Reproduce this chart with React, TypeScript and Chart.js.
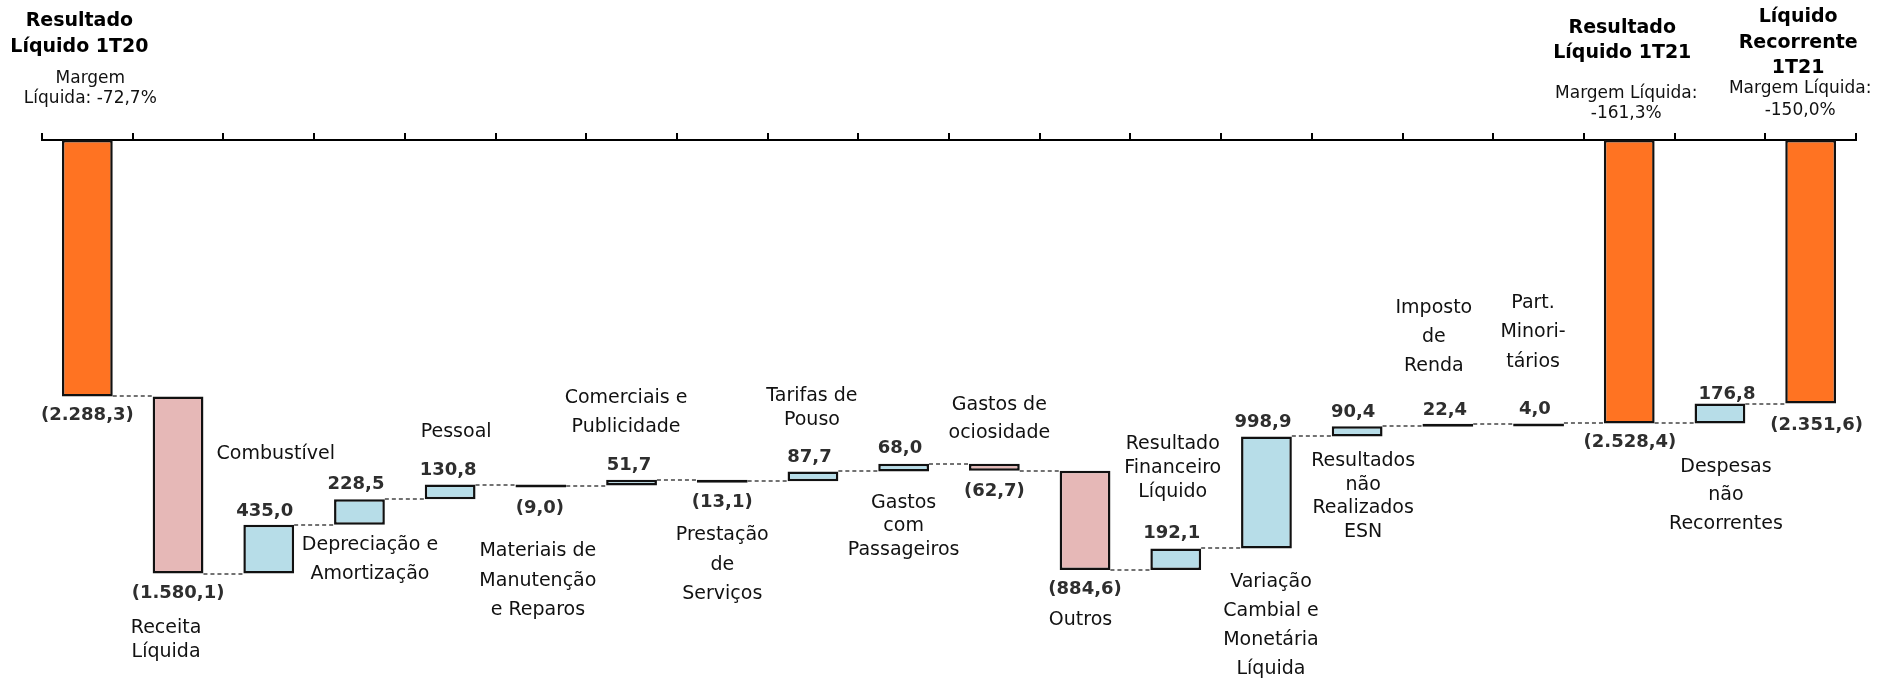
import React, { useEffect, useRef } from 'react';
import { Chart, registerables } from 'chart.js';

Chart.register(...registerables);

// ---------- data ----------
const categories: string[] = [
  'Resultado Líquido 1T20',
  'Receita\nLíquida',
  'Combustível',
  'Depreciação e\nAmortização',
  'Pessoal',
  'Materiais de\nManutenção\ne Reparos',
  'Comerciais e\nPublicidade',
  'Prestação\nde\nServiços',
  'Tarifas de\nPouso',
  'Gastos\ncom\nPassageiros',
  'Gastos de\nociosidade',
  'Outros',
  'Resultado\nFinanceiro\nLíquido',
  'Variação\nCambial e\nMonetária\nLíquida',
  'Resultados\nnão\nRealizados\nESN',
  'Imposto\nde\nRenda',
  'Part.\nMinori-\ntários',
  'Resultado Líquido 1T21',
  'Despesas\nnão\nRecorrentes',
  'Líquido Recorrente 1T21',
];

const values: number[] = [
  -2288.3, -1580.1, 435.0, 228.5, 130.8, -9.0, 51.7, -13.1, 87.7, 68.0,
  -62.7, -884.6, 192.1, 998.9, 90.4, 22.4, 4.0, -2528.4, 176.8, -2351.6,
];

const isTotal: boolean[] = [
  true, false, false, false, false, false, false, false, false, false,
  false, false, false, false, false, false, false, true, false, true,
];

const totalIndex: number[] = [0, 17, 19];
const totalTitles: string[] = [
  'Resultado\nLíquido 1T20',
  'Resultado\nLíquido 1T21',
  'Líquido\nRecorrente\n1T21',
];
const netMargins: string[] = [
  'Margem\nLíquida: -72,7%',
  'Margem Líquida:\n-161,3%',
  'Margem Líquida:\n-150,0%',
];

// ---------- layout (label placement relative to bars) ----------
type NameLayout = { at: 'above' | 'below' | 'none'; dx: number; dy: number; lh: number };
const nameLayout: NameLayout[] = [
  { at: 'none', dx: 0, dy: 0, lh: 0 },
  { at: 'below', dx: -12, dy: 59.5, lh: 24 },
  { at: 'above', dx: 7, dy: 66, lh: 24 },
  { at: 'below', dx: 10.5, dy: 25, lh: 29 },
  { at: 'above', dx: 6, dy: 47.5, lh: 24 },
  { at: 'below', dx: -3, dy: 68.5, lh: 29.5 },
  { at: 'above', dx: -5.5, dy: 48, lh: 29 },
  { at: 'below', dx: 0, dy: 57.5, lh: 29.5 },
  { at: 'above', dx: -1, dy: 46.5, lh: 24 },
  { at: 'below', dx: 0, dy: 36.5, lh: 23.5 },
  { at: 'above', dx: 5, dy: 26, lh: 28 },
  { at: 'below', dx: -4.5, dy: 55, lh: 24 },
  { at: 'above', dx: -3, dy: 51.5, lh: 24 },
  { at: 'below', dx: 4.5, dy: 38.5, lh: 29 },
  { at: 'below', dx: 6, dy: 29.5, lh: 23.7 },
  { at: 'above', dx: -14, dy: 53, lh: 29 },
  { at: 'above', dx: -5.5, dy: 56.5, lh: 29.5 },
  { at: 'none', dx: 0, dy: 0, lh: 0 },
  { at: 'below', dx: 6, dy: 48.5, lh: 28.5 },
  { at: 'none', dx: 0, dy: 0, lh: 0 },
];
const valueDx: number[] = [
  0, 0, -4, -3.5, -2, -1, -2.6, 0, -3.5, -3.7,
  0, 0, -4, -3.5, -4, -3, -3.6, 0.7, 7, 6,
];
const valueGap: number[] = [
  24, 24.5, 9, 10, 9.5, 25, 9.5, 24, 9.8, 10.5,
  25, 24.5, 10, 9.5, 9.5, 9, 9.5, 23.5, 5, 26.5,
];
// header blocks (relative to chart area top)
const titleDx: number[] = [-8, -7, -12.5];
const titleDy: number[] = [-114, -107, -118];
const titleLh: number[] = [26, 25, 25.5];
const marginDx: number[] = [3, -3, -10.5];
const marginDy: number[] = [-57, -42, -47];
const marginLh: number[] = [20, 20, 22];

const ORANGE = '#FF7322';
const PINK = '#E6B8B7';
const BLUE = '#B7DDE8';
const FONT = "'DejaVu Sans', 'Noto Sans', sans-serif";

function fmt(v: number): string {
  const abs = Math.abs(v);
  const [i, d] = abs.toFixed(1).split('.');
  const s = i.replace(/\B(?=(\d{3})+(?!\d))/g, '.') + ',' + d;
  return v < 0 ? '(' + s + ')' : s;
}

// running levels
const ranges: [number, number][] = [];
const levels: number[] = [];
{
  let level = 0;
  values.forEach((v, i) => {
    if (isTotal[i]) {
      ranges.push([0, v]);
      level = v;
    } else {
      ranges.push([level, level + v]);
      level = level + v;
    }
    levels.push(level);
  });
}

const colors = values.map((v, i) => (isTotal[i] ? ORANGE : v >= 0 ? BLUE : PINK));

const decorPlugin = {
  id: 'waterfallDecor',
  beforeDatasetsDraw(chart: any) {
    const ctx = chart.ctx;
    const meta = chart.getDatasetMeta(0);
    const ys = chart.scales.y;
    ctx.save();
    ctx.setLineDash([4, 3]);
    ctx.strokeStyle = '#444';
    ctx.lineWidth = 1.5;
    for (let i = 0; i < values.length - 1; i++) {
      const a = meta.data[i].getProps(['x', 'width'], true);
      const b = meta.data[i + 1].getProps(['x', 'width'], true);
      const py = Math.round(ys.getPixelForValue(levels[i]));
      ctx.beginPath();
      ctx.moveTo(a.x + a.width / 2, py);
      ctx.lineTo(b.x - b.width / 2, py);
      ctx.stroke();
    }
    ctx.restore();
  },
  afterDraw(chart: any) {
    const ctx = chart.ctx;
    const meta = chart.getDatasetMeta(0);
    const top0 = chart.chartArea.top;
    ctx.save();
    ctx.textAlign = 'center';
    ctx.textBaseline = 'alphabetic';
    values.forEach((v, i) => {
      const el = meta.data[i].getProps(['x', 'y', 'base', 'width'], true);
      const barTop = Math.min(el.y, el.base);
      const barBottom = Math.max(el.y, el.base);
      // value label
      ctx.font = `bold 18px ${FONT}`;
      ctx.fillStyle = '#2e2e2e';
      const vy = v < 0 ? barBottom + valueGap[i] : barTop - valueGap[i];
      ctx.fillText(fmt(v), el.x + valueDx[i], vy);
      // name label
      const nl = nameLayout[i];
      if (nl.at !== 'none') {
        ctx.font = `19px ${FONT}`;
        ctx.fillStyle = '#111';
        const lines = categories[i].split('\n');
        const first = nl.at === 'below' ? barBottom + nl.dy : barTop - nl.dy - (lines.length - 1) * nl.lh;
        lines.forEach((ln, k) => ctx.fillText(ln, el.x + nl.dx, first + k * nl.lh));
      }
    });
    totalIndex.forEach((idx, t) => {
      const el = meta.data[idx].getProps(['x'], true);
      ctx.font = `bold 19px ${FONT}`;
      ctx.fillStyle = '#000';
      totalTitles[t].split('\n').forEach((ln, k) =>
        ctx.fillText(ln, el.x + titleDx[t], top0 + titleDy[t] + k * titleLh[t]));
      ctx.font = `17px ${FONT}`;
      ctx.fillStyle = '#111';
      netMargins[t].split('\n').forEach((ln, k) =>
        ctx.fillText(ln, el.x + marginDx[t], top0 + marginDy[t] + k * marginLh[t]));
    });
    ctx.restore();
  },
};

export default function App() {
  const ref = useRef<HTMLCanvasElement | null>(null);
  useEffect(() => {
    document.body.style.margin = '0';
    document.body.style.overflow = 'hidden';
    if (!ref.current) return;
    const chart = new Chart(ref.current, {
      type: 'bar',
      data: {
        labels: categories.map((c, i) => {
          const t = totalIndex.indexOf(i);
          return (t >= 0 ? totalTitles[t] : c).replace(/\n/g, ' ');
        }),
        datasets: [
          {
            data: ranges as any,
            backgroundColor: colors,
            borderColor: '#111',
            borderWidth: 2.5,
            borderSkipped: false,
            minBarLength: 3,
            categoryPercentage: 1,
            barPercentage: 0.56,
          },
        ],
      },
      options: {
        animation: false,
        responsive: true,
        maintainAspectRatio: false,
        layout: { padding: { left: 42, right: 22, top: 133, bottom: 0 } },
        plugins: { legend: { display: false }, tooltip: { enabled: false }, title: { display: false } },
        scales: {
          x: {
            type: 'category',
            position: 'top',
            offset: true,
            grid: { offset: true, drawOnChartArea: false, drawTicks: true, tickLength: 7, color: '#000', lineWidth: 2 },
            border: { display: true, color: '#000', width: 2 },
            ticks: { display: false },
          },
          y: { display: false, min: -4800, max: 0 },
        },
      },
      plugins: [decorPlugin],
    });
    return () => chart.destroy();
  }, []);
  return (
    <div style={{ width: '100%', height: '678px', position: 'relative' }}>
      <canvas ref={ref} />
    </div>
  );
}
